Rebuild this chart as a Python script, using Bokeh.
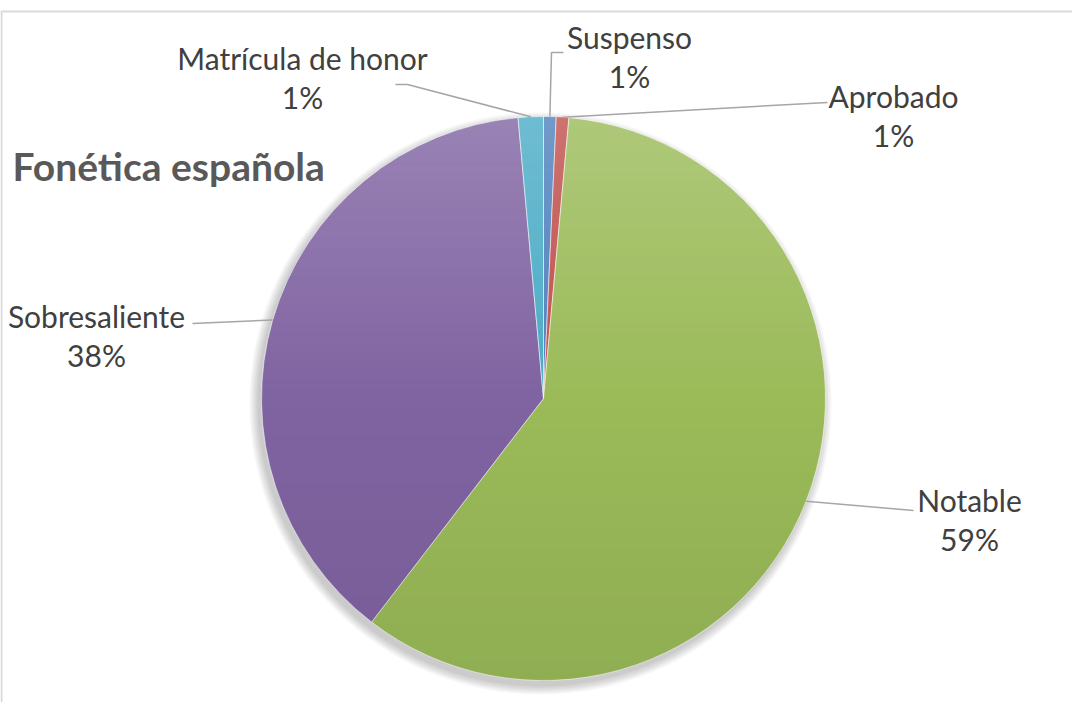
import math
import numpy as np
from bokeh.plotting import figure
from bokeh.models import Range1d
from bokeh.core.properties import value
from bokeh.embed import file_html
from bokeh.resources import INLINE

# ---------------- data ----------------
categories = ["Suspenso", "Aprobado", "Notable", "Sobresaliente", "Matrícula de honor"]
counts = [1, 1, 82, 53, 2]
colors = ["#4F81BD", "#C0504D", "#9BBB59", "#8064A2", "#4BACC6"]
title_text = "Fonética española"

# ---------------- layout (page pixel coords) ----------------
W, H = 1072, 702
IMG_H = 702
def Y(img_y):
    return IMG_H - img_y

cx, cy, R = 543, Y(398), 282
label_font = "Lato"
label_size = "30px"
line_gap = 39
label_pos = {
    "Suspenso": (629, 36),
    "Aprobado": (893, 95),
    "Notable": (969, 499),
    "Sobresaliente": (96, 315),
    "Matrícula de honor": (302, 57),
}
leader_path = {
    "Suspenso": [(551, 52), (563, 52)],
    "Aprobado": [(827, 102)],
    "Notable": [(913, 510)],
    "Sobresaliente": [(192, 323)],
    "Matrícula de honor": [(407, 84), (395, 84)],
}

p = figure(width=W, height=H, x_range=Range1d(0, W), y_range=Range1d(0, H),
           output_backend="svg", toolbar_location=None, min_border=0)
p.axis.visible = False
p.grid.visible = False
p.outline_line_color = None
p.background_fill_color = "white"

# chart area border
p.line([0, W], [Y(11), Y(11)], line_color="#d9d9d9", line_width=2)
p.line([1, 1], [Y(11), 0], line_color="#d9d9d9", line_width=2)

# soft shadow
for k in range(6):
    p.circle(x=[cx - 3], y=[cy - 5], radius=R + 1 + k * 1.6, fill_color="black",
             fill_alpha=0.035, line_color=None)

total = sum(counts)
fr = np.array(counts) / total
cum = np.concatenate([[0], np.cumsum(fr)])
starts = math.pi / 2 - cum[:-1] * 2 * math.pi
ends = math.pi / 2 - cum[1:] * 2 * math.pi

p.wedge(x=cx, y=cy, radius=R, start_angle=starts, end_angle=ends, direction="clock",
        fill_color=colors, line_color="white", line_alpha=0.55, line_width=1)

# vertical shading overlay (light at top, darker at bottom)
nb = 60
xs_list, ys_list, cols, alphas = [], [], [], []
for i in range(nb):
    y0 = cy + R - i * (2 * R / nb)
    y1 = cy + R - (i + 1) * (2 * R / nb)
    yy = np.linspace(y0, y1, 6)
    half = np.sqrt(np.clip(R**2 - (yy - cy) ** 2, 0, None))
    xs_list.append(list(cx + half) + list(cx - half[::-1]))
    ys_list.append(list(yy) + list(yy[::-1]))
    t = (i + 0.5) / nb
    if t < 0.5:
        cols.append("white"); alphas.append(0.2 * (0.5 - t) / 0.5)
    else:
        cols.append("black"); alphas.append(0.07 * (t - 0.5) / 0.5)
p.patches(xs_list, ys_list, fill_color=cols, fill_alpha=alphas, line_color=None)

# leader lines and labels
mids = (cum[:-1] + cum[1:]) / 2
for cat, m in zip(categories, mids):
    a = m * 2 * math.pi
    sx, sy = cx + R * math.sin(a), cy + R * math.cos(a)
    px = [sx] + [q[0] for q in leader_path[cat]]
    py = [sy] + [Y(q[1]) for q in leader_path[cat]]
    p.line(px, py, line_color="#a6a6a6", line_width=1.5)

lx = [label_pos[c][0] for c in categories]
ly1 = [Y(label_pos[c][1]) for c in categories]
ly2 = [Y(label_pos[c][1] + line_gap) for c in categories]
pct = [f"{round(100 * c / total)}%" for c in counts]
p.text(x=lx, y=ly1, text=categories, text_align="center", text_baseline="alphabetic",
       text_font=value(label_font), text_font_size=label_size, text_color="#404040")
p.text(x=lx, y=ly2, text=pct, text_align="center", text_baseline="alphabetic",
       text_font=value(label_font), text_font_size=label_size, text_color="#404040")

p.text(x=[12], y=[Y(165)], text=[title_text], text_align="left", text_baseline="alphabetic",
       text_font=value(label_font), text_font_size="39px", text_font_style="bold",
       text_color="#595959")

open("out.html", "w").write(file_html(p, INLINE))
